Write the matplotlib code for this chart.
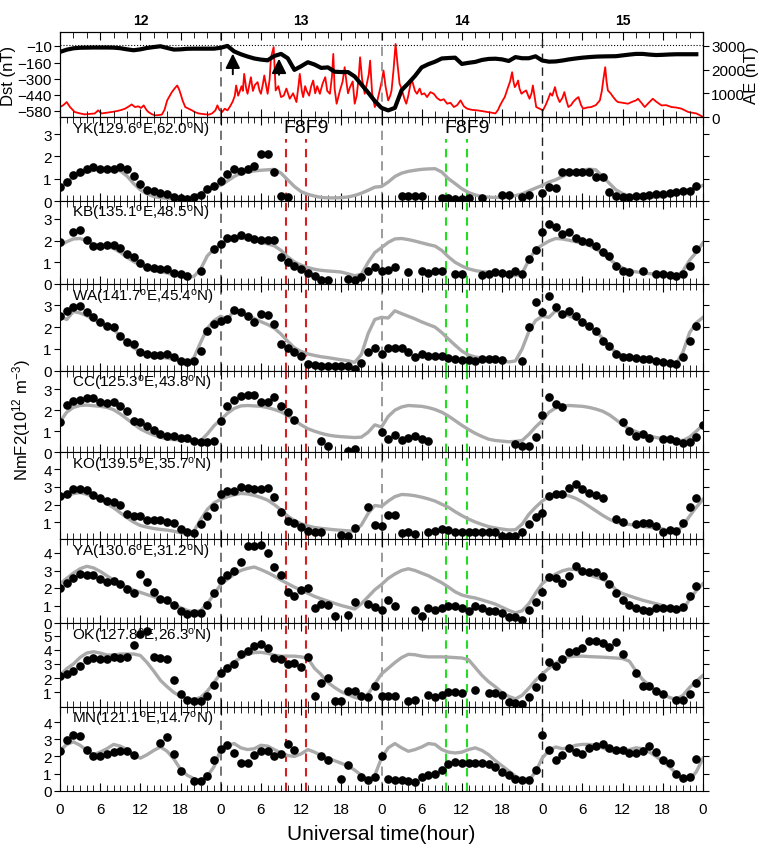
import numpy as np
import matplotlib
matplotlib.use("Agg")
import matplotlib.pyplot as plt
from matplotlib.ticker import MultipleLocator

nan = np.nan

# ---------------- data ----------------
hours = np.arange(97)          # UT hours from 12 day 00 UT to 16 day 00 UT

# Dst index (hourly)
dst_t = np.arange(96)
dst = [-65, -45, -33, -28, -27, -26, -26, -26, -27, -32, -42, -50, -42, -30, -22, -15, -30, -44, -42, -37, -36, -36, -36, -36,
       -28, -12, -60, -85, -105, -122, -132, -138, -100, -82, -120, -222, -190, -155, -175, -205, -200, -238, -241, -241, -280, -350, -420, -495,
       -555, -577, -555, -400, -340, -275, -200, -172, -150, -122, -118, -115, -170, -160, -152, -135, -126, -124, -130, -144, -110, -120, -120, -103,
       -140, -150, -148, -140, -130, -122, -115, -110, -106, -104, -103, -102, -95, -88, -82, -82, -88, -92, -90, -87, -85, -85, -85, -85]

# AE index (time in hours, value in nT)
ae_t = [0.0, 0.5, 1.0, 1.5, 2.2, 3.0, 3.7, 4.5, 5.2, 5.7, 6.2, 7.0, 7.7, 8.5, 9.2, 9.7, 10.3, 10.7, 11.2, 11.7,
        12.1, 12.5, 12.9, 13.2, 13.7, 14.2, 14.7, 15.2, 15.6, 16.0, 16.4, 16.7, 17.1, 17.5, 17.8, 18.0, 18.3, 18.7, 19.2, 19.7,
        20.2, 20.7, 21.5, 22.2, 22.7, 23.2, 23.5, 23.8, 24.2, 24.6, 25.0, 25.4, 25.8, 26.1, 26.3, 26.6, 26.8, 27.1, 27.3, 27.5,
        27.8, 28.0, 28.3, 28.5, 28.8, 29.1, 29.5, 29.8, 30.0, 30.3, 30.5, 30.8, 31.0, 31.3, 31.5, 31.9, 32.2, 32.6, 33.0, 33.4,
        33.8, 34.3, 34.8, 35.3, 35.6, 35.8, 36.1, 36.3, 36.6, 36.8, 37.2, 37.5, 37.8, 38.1, 38.4, 38.8, 39.2, 39.6, 39.9, 40.3,
        40.6, 40.8, 41.0, 41.3, 41.6, 41.8, 42.2, 42.5, 42.8, 43.0, 43.3, 43.7, 44.0, 44.3, 44.6, 44.8, 45.1, 45.5, 45.8, 46.1,
        46.3, 46.6, 47.0, 47.3, 47.5, 47.8, 48.1, 48.3, 48.6, 49.0, 49.3, 49.5, 49.8, 50.1, 50.4, 50.7, 51.0, 51.2, 51.5, 51.7,
        52.0, 52.2, 52.5, 52.8, 53.0, 53.3, 53.7, 54.0, 54.4, 54.8, 55.3, 55.8, 56.3, 56.8, 57.3, 57.8, 58.3, 58.8, 59.3, 59.8,
        60.3, 60.8, 61.5, 62.3, 63.0, 63.8, 64.5, 65.0, 65.4, 65.7, 66.1, 66.4, 66.7, 66.9, 67.2, 67.5, 67.7, 67.9, 68.2, 68.4,
        68.6, 68.9, 69.2, 69.6, 69.9, 70.1, 70.4, 70.6, 70.9, 71.1, 71.6, 72.1, 72.5, 72.9, 73.2, 73.5, 73.9, 74.2, 74.6, 75.0,
        75.3, 75.6, 75.9, 76.3, 76.6, 77.0, 77.4, 77.8, 78.1, 78.7, 79.3, 80.0, 80.6, 80.9, 81.1, 81.4, 81.6, 81.8, 82.2, 82.6,
        83.0, 83.3, 84.0, 84.8, 85.5, 86.0, 86.3, 86.8, 87.3, 87.9, 88.5, 89.0, 89.8, 90.5, 91.3, 92.0, 92.8, 93.3, 93.8, 94.4,
        95.0, 95.5, 96.0]
ae = [420, 500, 630, 420, 210, 150, 110, 130, 150, 280, 150, 180, 210, 250, 300, 350, 450, 530, 420, 450,
      380, 490, 300, 210, 120, 70, 80, 100, 300, 700, 900, 1050, 1200, 1330, 1150, 980, 700, 420, 350, 280,
      200, 150, 120, 100, 150, 280, 490, 300, 210, 350, 280, 450, 660, 900, 1330, 900, 1050, 1300, 1100, 1820,
      1200, 980, 1400, 1680, 1100, 1350, 1470, 1100, 980, 1400, 1750, 1300, 980, 1600, 2520, 2950, 1120, 1300, 840, 900,
      1200, 770, 1000, 630, 1300, 1820, 1100, 840, 1300, 1120, 900, 1300, 1540, 1000, 1300, 980, 1400, 1680, 1100, 980,
      1700, 2660, 1200, 560, 900, 1120, 1500, 2100, 1400, 1000, 1260, 1500, 560, 900, 1700, 2520, 1600, 980, 1400, 1800,
      2380, 1000, 420, 600, 840, 1200, 1600, 1960, 1300, 700, 900, 1120, 2000, 3080, 2200, 1400, 1200, 980, 700, 560,
      900, 1200, 1610, 1300, 1100, 980, 1200, 950, 1000, 840, 1050, 980, 800, 700, 750, 560, 600, 420, 500, 700,
      450, 350, 300, 280, 250, 210, 180, 150, 300, 490, 700, 840, 1100, 1260, 1500, 1890, 1500, 1260, 1400, 1540,
      1200, 980, 1050, 1120, 900, 770, 1000, 1330, 800, 420, 350, 280, 500, 770, 1000, 900, 1260, 900, 630, 800,
      1050, 700, 420, 500, 630, 750, 840, 500, 350, 400, 420, 500, 700, 1100, 1540, 2100, 1500, 1120, 1000, 840,
      700, 630, 600, 560, 650, 700, 770, 600, 420, 600, 770, 650, 490, 500, 420, 400, 350, 280, 210, 180,
      150, 80, 0]

# NmF2 (10^12 m^-3): observed hourly values (dots) and quiet reference (grey)
names = ["YK(129.6$^{\\mathrm{o}}$E,62.0$^{\\mathrm{o}}$N)",
         "KB(135.1$^{\\mathrm{o}}$E,48.5$^{\\mathrm{o}}$N)",
         "WA(141.7$^{\\mathrm{o}}$E,45.4$^{\\mathrm{o}}$N)",
         "CC(125.3$^{\\mathrm{o}}$E,43.8$^{\\mathrm{o}}$N)",
         "KO(139.5$^{\\mathrm{o}}$E,35.7$^{\\mathrm{o}}$N)",
         "YA(130.6$^{\\mathrm{o}}$E,31.2$^{\\mathrm{o}}$N)",
         "OK(127.8$^{\\mathrm{o}}$E,26.3$^{\\mathrm{o}}$N)",
         "MN(121.1$^{\\mathrm{o}}$E,14.7$^{\\mathrm{o}}$N)"]

yk = [0.61, 0.87, 1.15, 1.28, 1.43, 1.51, 1.43, 1.43, 1.45, 1.51, 1.43, 1.13, 0.76, 0.51, 0.46, 0.37, 0.3, 0.2, 0.15, 0.09, 0.16, 0.27, 0.54, 0.66,
      0.91, 1.21, 1.43, 1.36, 1.43, 1.58, 2.1, 2.1, 1.29, 0.24, 0.17, nan, nan, nan, nan, nan, nan, nan, nan, nan, nan, nan, nan, nan,
      nan, nan, nan, 0.24, 0.24, 0.24, 0.24, nan, nan, 0.13, 0.13, 0.1, 0.1, 0.13, nan, 0.13, nan, nan, 0.27, 0.25, nan, 0.2, 0.27, nan,
      0.36, 0.61, 0.57, 1.29, 1.31, 1.3, 1.3, 1.32, 1.06, 1.06, 0.39, 0.24, 0.2, 0.2, 0.22, 0.24, 0.27, 0.31, 0.33, 0.36, 0.4, 0.43, 0.46, 0.69,
      nan]
kb = [1.95, nan, 2.38, 2.5, 2.04, 1.77, 1.77, 1.8, 1.8, 1.64, 1.38, 1.23, 0.97, 0.77, 0.72, 0.69, 0.69, 0.51, 0.46, 0.38, nan, 0.61, nan, 1.61,
      1.84, 2.1, 2.1, 2.26, 2.15, 2.07, 2.04, 2.04, 2.04, 1.23, 1.0, 0.84, 0.69, 0.51, 0.35, 0.2, 0.17, nan, nan, 0.21, 0.17, 0.32, 0.61, 0.77,
      0.61, 0.64, 0.8, nan, 0.54, nan, 0.61, 0.51, 0.61, 0.61, nan, 0.46, 0.46, nan, nan, 0.41, 0.46, 0.57, 0.51, 0.46, 0.61, 0.46, 1.15, 1.58,
      2.38, 2.76, 2.61, 2.3, 2.38, 2.1, 2.0, 1.93, 1.74, 1.46, 1.3, 0.82, 0.61, 0.57, nan, 0.61, nan, 0.46, 0.46, 0.41, 0.35, 0.46, 0.82, 1.61,
      nan]
wa = [2.52, 2.75, 2.91, 2.95, 2.71, 2.45, 2.22, 2.06, 1.99, 1.61, 1.3, 1.22, 0.87, 0.77, 0.72, 0.72, 0.77, 0.61, 0.46, 0.38, 0.46, 0.92, 1.83, 2.14,
      2.29, 2.37, 2.8, 2.71, 2.52, 2.22, 2.6, 2.55, 2.14, 1.22, 1.02, 0.84, 0.69, 0.31, 0.26, 0.2, 0.2, 0.2, 0.2, 0.2, 0.1, 0.35, 0.84, 1.02,
      0.77, 1.02, 1.02, 1.02, 0.84, 0.64, 0.77, 0.66, 0.69, 0.69, 0.57, 0.54, 0.51, 0.51, 0.46, 0.54, 0.54, 0.54, 0.51, nan, nan, 0.46, 1.99, 3.14,
      2.71, 3.44, 2.91, 2.6, 2.75, 2.49, 2.22, 2.06, 1.83, 1.38, 1.15, 0.77, 0.61, 0.61, 0.57, 0.54, 0.54, 0.46, 0.41, 0.35, 0.31, 0.61, 1.38, 2.06,
      nan]
cc = [1.45, 2.24, 2.45, 2.5, 2.57, 2.57, 2.37, 2.34, 2.4, 2.21, 1.94, 1.5, 1.42, 1.26, 1.07, 0.87, 0.76, 0.79, 0.66, 0.66, 0.55, 0.5, 0.5, 0.55,
      1.5, 2.18, 2.49, 2.68, 2.7, 2.7, 2.4, 2.37, 2.6, 2.21, 1.9, 1.55, nan, nan, nan, 0.55, 0.31, nan, nan, 0.08, 0.15, nan, nan, nan,
      0.98, 0.63, 0.82, 0.6, 0.66, 0.76, 0.63, 0.55, nan, nan, nan, nan, nan, nan, nan, nan, nan, nan, nan, nan, 0.39, 0.31, 0.28, 0.71,
      1.77, 2.6, 2.29, 2.13, nan, nan, nan, nan, nan, nan, nan, nan, 1.45, 1.02, 0.79, 0.87, 0.66, nan, 0.63, 0.63, 0.55, 0.44, 0.5, 0.71,
      1.31]
ko = [2.5, 2.6, 2.88, 2.88, 2.85, 2.54, 2.36, 2.22, 2.13, 1.98, 1.47, 1.37, 1.34, 1.15, 1.15, 1.15, 1.04, 0.96, 0.62, 0.44, 0.41, 0.9, 1.37, 1.85,
      2.6, 2.79, 2.79, 2.98, 2.92, 2.88, 2.88, 2.92, 2.41, 1.6, 1.09, 0.96, 0.72, 0.53, 0.47, 0.44, nan, nan, 0.28, 0.25, 0.66, nan, 1.85, 0.85,
      0.78, 1.41, 1.41, 0.41, 0.47, 0.34, nan, 0.44, 0.53, 0.62, 0.58, 0.47, 0.47, 0.47, 0.44, 0.44, 0.47, 0.44, 0.25, 0.22, 0.22, 0.44, 0.9, 1.28,
      1.54, 2.5, 2.6, 2.6, 2.92, 3.16, 2.88, 2.66, 2.54, 2.36, nan, 1.19, 1.04, nan, 0.9, 0.96, 0.96, 0.81, 0.44, 0.58, 0.53, 0.96, 1.85, 2.36,
      nan]
ya = [1.98, 2.29, 2.55, 2.8, 2.74, 2.74, 2.51, 2.36, 2.42, 2.23, 1.94, 1.71, 2.8, 2.36, 1.75, 1.37, 1.33, 1.03, 0.7, 0.51, 0.57, 0.57, 1.03, 1.71,
      2.47, 2.74, 2.99, 3.47, 4.42, 4.42, 4.46, 3.98, 3.18, 2.74, 1.79, 1.52, 1.86, 1.98, 0.84, 1.09, 1.03, 0.38, nan, 0.46, 1.18, nan, 1.09, 0.9,
      0.76, 1.33, 0.95, nan, nan, 0.76, 0.42, 0.84, 0.76, 0.84, 0.95, 0.95, 0.84, 0.7, 0.95, 0.84, 0.7, 0.7, 0.57, 0.32, 0.32, 0.19, 0.76, 1.22,
      1.79, 2.64, 2.55, 2.29, 2.7, 3.24, 2.99, 2.93, 2.93, 2.67, 2.23, 1.71, 1.33, 1.03, 0.84, 0.76, 0.7, 0.84, 0.84, 0.84, 0.8, 0.9, 1.52, 2.13,
      nan]
ok = [2.13, 2.29, 2.52, 2.87, 3.3, 3.39, 3.36, 3.36, 3.46, 3.39, 3.46, 4.33, 5.1, 5.34, 3.46, 3.39, 3.36, 1.89, 0.88, 0.48, 0.41, 0.41, 0.72, 1.51,
      2.38, 2.69, 2.99, 3.7, 3.93, 4.24, 4.4, 4.1, 3.39, 3.36, 2.99, 3.06, 2.76, 3.46, 0.72, 1.65, 1.99, 0.41, 0.41, 1.11, 1.11, 0.72, 0.65, 1.42,
      0.72, 0.76, 0.72, nan, 0.41, 0.48, nan, 0.79, 0.65, 0.79, 1.04, 1.04, 0.97, nan, 1.18, nan, 0.97, 0.97, 0.79, 0.34, 0.25, 0.18, 0.65, 1.35,
      2.06, 3.15, 2.83, 3.36, 3.86, 3.93, 4.1, 4.63, 4.63, 4.47, 4.17, 4.56, 3.7, nan, 2.38, 1.47, 1.42, 1.11, 0.88, nan, 0.48, 0.48, 0.88, 1.7,
      nan]
mn = [2.3, 2.93, 3.25, 3.19, 2.4, 2.0, 2.0, 2.14, 2.24, 2.3, 2.3, 2.1, nan, nan, nan, 2.8, 3.14, 2.14, 1.15, nan, 0.55, 0.55, 0.85, 1.8,
      2.46, 2.66, 2.2, 1.6, 1.6, 2.06, 2.34, 2.34, 2.0, 2.14, 2.7, 2.4, nan, nan, nan, 2.0, 1.8, nan, 0.66, 1.5, nan, 0.8, 0.6, 0.8,
      2.0, 0.66, 0.6, 0.6, 0.55, 0.5, 0.8, 0.9, 1.0, 1.2, 1.55, 1.7, 1.6, 1.6, 1.6, 1.6, 1.55, 1.4, 1.1, 0.9, 0.7, 0.6, 0.6, 1.2,
      3.26, 2.4, 1.8, 2.1, 2.5, 2.26, 2.14, 2.5, 2.6, 2.7, 2.5, 2.4, 2.4, 2.2, 2.2, 2.3, 2.6, 2.26, 1.8, 1.6, 1.0, 0.75, 0.8, 1.85,
      nan]

yk_q = [0.6, 0.85, 1.05, 1.2, 1.3, 1.38, 1.42, 1.45, 1.42, 1.35, 1.12, 0.78, 0.5, 0.32, 0.2, 0.15, 0.12, 0.1, 0.1, 0.12, 0.2, 0.35, 0.5, 0.65,
        0.7, 0.9, 1.1, 1.25, 1.3, 1.35, 1.38, 1.4, 1.42, 1.25, 0.95, 0.65, 0.42, 0.3, 0.22, 0.16, 0.14, 0.14, 0.15, 0.18, 0.25, 0.35, 0.48, 0.62,
        0.65, 0.85, 1.1, 1.25, 1.33, 1.38, 1.42, 1.44, 1.45, 1.3, 1.0, 0.78, 0.55, 0.38, 0.27, 0.2, 0.17, 0.16, 0.17, 0.2, 0.24, 0.32, 0.45, 0.58,
        0.7, 0.85, 0.95, 1.1, 1.25, 1.33, 1.38, 1.43, 1.4, 1.1, 0.8, 0.5, 0.33, 0.22, 0.18, 0.16, 0.16, 0.17, 0.2, 0.25, 0.32, 0.42, 0.52, 0.6,
        0.7]
kb_q = [1.77, 1.95, 2.08, 2.1, 2.0, 1.85, 1.77, 1.74, 1.64, 1.46, 1.23, 1.03, 0.88, 0.72, 0.61, 0.57, 0.51, 0.41, 0.35, 0.31, 0.35, 0.69, 1.3, 1.61,
        1.8, 1.98, 2.08, 2.12, 2.08, 2.02, 1.93, 1.85, 1.76, 1.55, 1.25, 1.02, 0.87, 0.76, 0.68, 0.63, 0.6, 0.58, 0.55, 0.47, 0.38, 0.45, 1.0, 1.45,
        1.68, 1.92, 2.08, 2.1, 2.05, 1.98, 1.9, 1.82, 1.75, 1.55, 1.25, 1.0, 0.83, 0.7, 0.62, 0.57, 0.54, 0.5, 0.47, 0.44, 0.38, 0.5, 1.1, 1.6,
        1.8, 1.98, 2.1, 2.08, 2.02, 1.95, 1.87, 1.78, 1.62, 1.42, 1.15, 0.92, 0.74, 0.62, 0.56, 0.52, 0.48, 0.45, 0.42, 0.38, 0.32, 0.6, 1.1, 1.46,
        1.9]
wa_q = [2.5, 2.35, 2.72, 2.65, 2.52, 2.35, 2.18, 2.05, 1.88, 1.6, 1.3, 1.05, 0.85, 0.72, 0.66, 0.62, 0.58, 0.52, 0.45, 0.35, 0.6, 1.3, 1.95, 2.3,
        2.5, 2.35, 2.78, 2.68, 2.55, 2.4, 2.25, 2.12, 1.95, 1.68, 1.35, 1.05, 0.88, 0.77, 0.7, 0.64, 0.6, 0.55, 0.5, 0.46, 0.38, 0.75, 1.7, 2.35,
        2.45, 2.42, 2.75, 2.62, 2.5, 2.38, 2.24, 2.12, 2.0, 1.75, 1.45, 1.17, 0.9, 0.72, 0.63, 0.58, 0.54, 0.5, 0.47, 0.4, 0.45, 1.0, 1.8, 2.3,
        2.5, 2.45, 2.75, 2.62, 2.52, 2.38, 2.22, 2.06, 1.8, 1.5, 1.1, 0.85, 0.7, 0.63, 0.58, 0.55, 0.5, 0.45, 0.4, 0.35, 0.32, 0.85, 1.75, 2.2,
        2.45]
cc_q = [1.45, 1.9, 2.13, 2.22, 2.24, 2.21, 2.18, 2.13, 2.02, 1.82, 1.58, 1.34, 1.11, 0.95, 0.82, 0.71, 0.63, 0.6, 0.58, 0.55, 0.5, 0.55, 0.87, 1.26,
        1.55, 1.85, 2.08, 2.2, 2.22, 2.2, 2.18, 2.12, 2.03, 1.92, 1.75, 1.52, 1.3, 1.12, 1.0, 0.9, 0.82, 0.77, 0.74, 0.72, 0.7, 0.72, 0.95, 1.3,
        1.2, 1.7, 2.0, 2.15, 2.22, 2.2, 2.18, 2.12, 2.03, 1.9, 1.72, 1.5, 1.28, 1.08, 0.9, 0.75, 0.62, 0.56, 0.53, 0.5, 0.52, 0.56, 0.85, 1.2,
        1.5, 1.9, 2.1, 2.2, 2.22, 2.2, 2.18, 2.13, 2.05, 1.95, 1.78, 1.55, 1.3, 1.12, 0.98, 0.86, 0.78, 0.7, 0.65, 0.6, 0.56, 0.56, 0.72, 1.0,
        1.3]
ko_q = [2.45, 2.53, 2.62, 2.68, 2.58, 2.45, 2.3, 2.07, 1.82, 1.54, 1.26, 1.01, 0.82, 0.73, 0.65, 0.6, 0.56, 0.5, 0.41, 0.37, 0.5, 1.16, 1.73, 2.1,
        2.3, 2.45, 2.55, 2.63, 2.6, 2.52, 2.4, 2.25, 2.0, 1.7, 1.35, 1.1, 0.92, 0.8, 0.71, 0.66, 0.62, 0.58, 0.55, 0.52, 0.5, 0.85, 1.5, 1.95,
        1.9, 2.2, 2.45, 2.57, 2.55, 2.5, 2.42, 2.32, 2.2, 2.02, 1.85, 1.6, 1.38, 1.18, 1.02, 0.88, 0.76, 0.68, 0.62, 0.57, 0.58, 0.9, 1.45, 1.85,
        2.2, 2.45, 2.58, 2.55, 2.49, 2.35, 2.15, 1.9, 1.65, 1.4, 1.18, 1.0, 0.92, 0.88, 0.82, 0.77, 0.72, 0.68, 0.63, 0.5, 0.47, 0.8, 1.35, 1.85,
        2.3]
ya_q = [2.23, 2.55, 2.85, 3.1, 3.24, 3.15, 2.95, 2.7, 2.45, 2.25, 2.05, 1.88, 1.75, 1.62, 1.5, 1.35, 1.2, 1.05, 0.88, 0.72, 0.63, 0.72, 1.1, 1.65,
        2.2, 2.5, 2.78, 3.0, 3.12, 3.2, 3.05, 2.88, 2.68, 2.45, 2.25, 2.05, 1.88, 1.7, 1.52, 1.38, 1.25, 1.12, 1.0, 0.9, 0.8, 1.1, 1.5, 1.9,
        2.2, 2.55, 2.8, 3.0, 3.1, 3.0, 2.85, 2.7, 2.5, 2.3, 2.05, 1.78, 1.6, 1.5, 1.43, 1.32, 1.2, 1.08, 0.9, 0.72, 0.58, 0.7, 1.1, 1.7,
        2.25, 2.55, 2.8, 2.98, 3.08, 3.05, 2.9, 2.75, 2.62, 2.5, 2.3, 1.9, 1.68, 1.55, 1.42, 1.3, 1.2, 1.1, 1.0, 0.85, 0.68, 0.75, 1.35, 1.85,
        2.25]
ok_q = [2.2, 2.67, 3.0, 3.46, 3.77, 3.86, 3.77, 3.63, 3.63, 3.7, 3.7, 3.7, 3.6, 3.1, 2.5, 1.85, 1.4, 1.0, 0.72, 0.55, 0.5, 0.65, 1.1, 1.7,
        2.35, 2.8, 3.15, 3.45, 3.7, 3.8, 3.82, 3.75, 3.62, 3.55, 3.55, 3.55, 3.5, 3.4, 2.7, 2.25, 1.7, 1.35, 1.05, 0.85, 0.65, 0.55, 0.9, 1.6,
        2.3, 2.7, 3.1, 3.45, 3.68, 3.65, 3.55, 3.5, 3.5, 3.5, 3.48, 3.45, 3.42, 3.3, 2.75, 2.2, 1.75, 1.4, 1.0, 0.72, 0.55, 0.8, 1.3, 1.85,
        2.3, 2.7, 3.05, 3.35, 3.5, 3.55, 3.55, 3.52, 3.5, 3.48, 3.45, 3.42, 3.38, 3.2, 2.5, 1.9, 1.5, 1.15, 0.9, 0.65, 0.5, 0.8, 1.35, 1.8,
        2.2]
mn_q = [2.34, 2.7, 2.85, 2.65, 2.35, 2.1, 2.25, 2.45, 2.7, 2.6, 2.4, 2.1, 1.9, 2.1, 2.35, 2.55, 2.3, 1.85, 1.25, 0.9, 0.7, 0.6, 0.85, 1.4,
        2.4, 2.65, 2.75, 2.5, 2.4, 2.45, 2.65, 2.6, 2.4, 2.2, 2.05, 2.0, 2.15, 2.4, 2.25, 2.05, 1.9, 1.75, 1.6, 1.45, 1.2, 0.9, 0.65, 0.9,
        1.9, 2.5, 2.75, 2.5, 2.3, 2.4, 2.55, 2.75, 2.7, 2.4, 2.25, 2.2, 2.25, 2.4, 2.5, 2.35, 2.1, 1.75, 1.45, 1.15, 0.85, 0.65, 0.6, 1.1,
        1.9, 2.35, 2.55, 2.45, 2.5, 2.65, 2.7, 2.7, 2.65, 2.5, 2.35, 2.2, 2.3, 2.4, 2.5, 2.45, 2.25, 2.0, 1.7, 1.4, 1.0, 0.75, 0.65, 1.1,
        1.9]

obs = [yk, kb, wa, cc, ko, ya, ok, mn]
quiet = [yk_q, kb_q, wa_q, cc_q, ko_q, ya_q, ok_q, mn_q]
ylims = [(0, 3.77), (0, 3.83), (0, 3.98), (0, 3.87), (0.06, 4.95), (0, 4.8), (0, 5.88), (0, 4.9)]
yticks = [[0, 1, 2, 3], [0, 1, 2, 3], [0, 1, 2, 3], [0, 1, 2, 3], [1, 2, 3, 4], [0, 1, 2, 3, 4], [1, 2, 3, 4, 5], [0, 1, 2, 3, 4]]

for a in obs + quiet:
    assert len(a) == 97, len(a)

# F8 and F9 passes (UT hour of day 13 and day 14)
f_red = [33.7, 36.7]
f_green = [57.7, 60.7]

# ---------------- figure ----------------
plt.rcParams["font.family"] = ["Liberation Sans", "DejaVu Sans"]
plt.rcParams["mathtext.fontset"] = "custom"
plt.rcParams["mathtext.rm"] = "Liberation Sans"
plt.rcParams["mathtext.it"] = "Liberation Sans:italic"

W, H = 765, 862
fig = plt.figure(figsize=(W / 100, H / 100), dpi=100)

# panel borders in pixels from the top
edges = [33, 118, 202, 285, 371.7, 453.3, 540, 624, 707.7, 791.7]
x0, x1 = 60, 703


def make_ax(i):
    top, bot = edges[i], edges[i + 1]
    return fig.add_axes([x0 / W, 1 - bot / H, (x1 - x0) / W, (bot - top) / H])


def day_lines(ax):
    ax.axvline(24, color="#505050", ls=(0, (6, 4)), lw=1.1, zorder=1)
    ax.axvline(48, color="#808080", ls=(0, (6, 4)), lw=1.1, zorder=1)
    ax.axvline(72, color="#202020", ls=(0, (6, 4)), lw=1.0, zorder=1)


# top panel: Dst and AE
ax = make_ax(0)
ax2 = ax.twinx()
ax2.plot(ae_t, ae, color="red", lw=1.3)
ax2.set_ylim(0, 3585)
ax2.set_yticks([0, 1000, 2000, 3000])
ax2.tick_params(axis="y", direction="out", length=4, labelsize=11, pad=2)
ax2.set_ylabel("AE (nT)", fontsize=12, labelpad=-1)

ax.set_zorder(ax2.get_zorder() + 1)
ax.patch.set_visible(False)
ax.plot(dst_t, dst, color="black", lw=3.0)
ax.axhline(0, color="black", ls=":", lw=0.8)
day_lines(ax)
ax.set_ylim(-635, 110)
ax.set_yticks([-10, -160, -300, -440, -580])
ax.set_ylabel("Dst (nT)", fontsize=12)
ax.yaxis.set_label_coords(-0.068, 0.5)
ax.tick_params(axis="y", direction="out", length=4, labelsize=11, pad=2)
ax.set_xlim(0, 96)
ax.xaxis.set_major_locator(MultipleLocator(6))
ax.xaxis.set_minor_locator(MultipleLocator(2))
ax.tick_params(axis="x", which="both", direction="in", top=True, bottom=True, labelbottom=False)
ax.tick_params(axis="x", which="major", length=6)
ax.tick_params(axis="x", which="minor", length=4)

# storm commencement arrows
for xa, yhead, ytail in [(25.8, -55, -285), (32.7, -100, -290)]:
    ax.annotate("", xy=(xa, yhead), xytext=(xa, ytail),
                arrowprops=dict(arrowstyle="-|>", color="black", lw=1.4, mutation_scale=22))

for k, d in enumerate(["12", "13", "14", "15"]):
    fig.text((x0 + (12 + 24 * k) * (x1 - x0) / 96) / W, 1 - 21 / H, d,
             ha="center", va="center", fontsize=10, fontweight="bold")

# NmF2 panels
for i in range(8):
    ax = make_ax(i + 1)
    day_lines(ax)
    ymax = 0.74 if i == 0 else 1
    for xr in f_red:
        ax.axvline(xr, ymax=ymax, color="#d42020", ls=(0, (4, 3)), lw=1.5, zorder=1)
    for xg in f_green:
        ax.axvline(xg, ymax=ymax, color="#22dd22", ls=(0, (4, 3)), lw=1.5, zorder=1)
    ax.plot(hours, quiet[i], color="#aaaaaa", lw=2.4, zorder=2)
    ax.plot(hours, obs[i], "o", color="black", ms=5.2, zorder=3)
    ax.set_xlim(0, 96)
    ax.set_ylim(*ylims[i])
    ax.set_yticks(yticks[i])
    ax.xaxis.set_major_locator(MultipleLocator(6))
    ax.xaxis.set_minor_locator(MultipleLocator(1))
    ax.tick_params(axis="x", which="both", direction="in", top=True, bottom=True)
    ax.tick_params(axis="x", which="major", length=6)
    ax.tick_params(axis="x", which="minor", length=4)
    ax.tick_params(axis="y", direction="out", left=True, right=True, length=4, labelsize=11, pad=2)
    ax.text(0.019, 0.97, names[i], transform=ax.transAxes, ha="left", va="top", fontsize=11)
    if i == 0:
        ax.text(f_red[0] - 0.3, 0.87, "F8F9", transform=ax.get_xaxis_transform(), ha="left", va="center", fontsize=14)
        ax.text(f_green[0] - 0.3, 0.87, "F8F9", transform=ax.get_xaxis_transform(), ha="left", va="center", fontsize=14)
    if i == 7:
        ax.set_xticks(np.arange(0, 97, 6))
        ax.set_xticklabels([str(h % 24) for h in range(0, 97, 6)], fontsize=11)
        ax.tick_params(axis="x", which="major", pad=8)
        ax.set_xlabel("Universal time(hour)", fontsize=15, labelpad=6)
    else:
        ax.tick_params(axis="x", labelbottom=False)

fig.text(22 / W, 1 - 420 / H, "NmF2(10$^{\\mathrm{12}}$ m$^{\\mathrm{-3}}$)", rotation=90,
         ha="center", va="center", fontsize=12)

fig.savefig("out.png", dpi=100)
